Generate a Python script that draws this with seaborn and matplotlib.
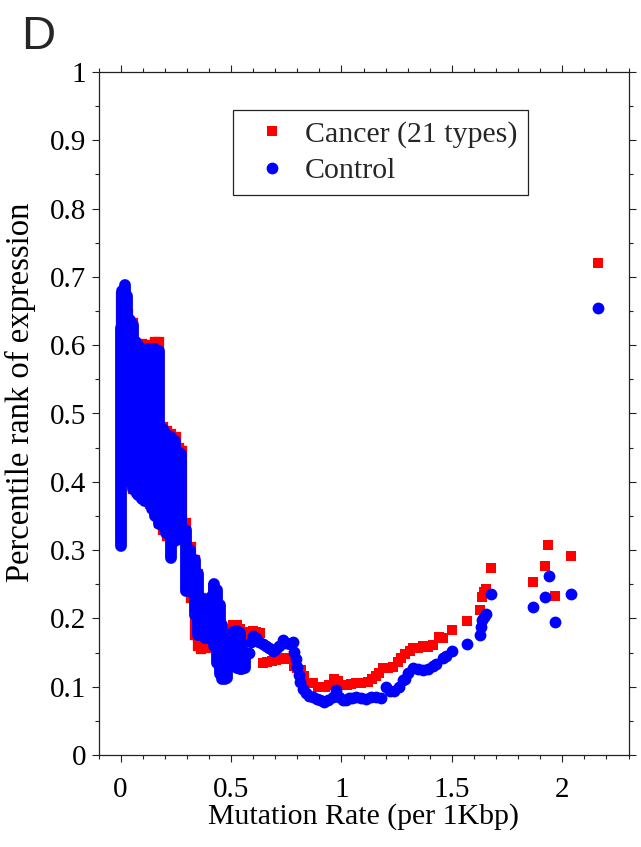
import matplotlib
matplotlib.use("Agg")
import matplotlib.pyplot as plt
from matplotlib.lines import Line2D
from matplotlib.ticker import MultipleLocator
import seaborn as sns
import pandas as pd

# Low mutation-rate genes are so numerous that their sliding-window points
# pile up into solid columns: each column is given by its x and the lowest /
# highest window value found at that x.
cancer_band_x = [0.000, 0.010, 0.020, 0.035, 0.055, 0.075, 0.095, 0.115, 0.135,
                 0.155, 0.175, 0.190, 0.210, 0.228, 0.250, 0.265, 0.278, 0.298,
                 0.318, 0.335, 0.350, 0.365]
cancer_band_lo = [0.322, 0.405, 0.410, 0.400, 0.390, 0.385, 0.378, 0.372, 0.368,
                  0.355, 0.340, 0.330, 0.320, 0.300, 0.315, 0.315, 0.315, 0.245,
                  0.230, 0.175, 0.160, 0.155]
cancer_band_hi = [0.670, 0.675, 0.678, 0.645, 0.633, 0.602, 0.602, 0.600, 0.598,
                  0.605, 0.605, 0.480, 0.475, 0.470, 0.465, 0.450, 0.445, 0.340,
                  0.305, 0.285, 0.265, 0.230]

control_band_x = [0.000, 0.008, 0.018, 0.030, 0.042, 0.055, 0.068, 0.080, 0.095,
                  0.110, 0.125, 0.140, 0.155, 0.172, 0.190, 0.205, 0.228, 0.248,
                  0.262, 0.275, 0.298, 0.316, 0.335, 0.350, 0.365, 0.380, 0.395,
                  0.410, 0.422, 0.435, 0.448, 0.460, 0.472, 0.484, 0.497, 0.510,
                  0.525, 0.540, 0.552, 0.565]
control_band_lo = [0.306, 0.410, 0.415, 0.410, 0.400, 0.390, 0.385, 0.380, 0.375,
                   0.372, 0.370, 0.360, 0.350, 0.338, 0.335, 0.325, 0.289, 0.313,
                   0.320, 0.320, 0.240, 0.240, 0.205, 0.175, 0.175, 0.172, 0.172,
                   0.178, 0.160, 0.135, 0.118, 0.112, 0.112, 0.113, 0.130, 0.132,
                   0.128, 0.126, 0.126, 0.128]
control_band_hi = [0.625, 0.680, 0.688, 0.672, 0.637, 0.630, 0.604, 0.600, 0.595,
                   0.585, 0.595, 0.595, 0.595, 0.592, 0.478, 0.470, 0.465, 0.460,
                   0.443, 0.440, 0.330, 0.300, 0.285, 0.265, 0.230, 0.215, 0.205,
                   0.232, 0.250, 0.242, 0.220, 0.190, 0.160, 0.140, 0.168, 0.180,
                   0.182, 0.178, 0.162, 0.145]

# Individual windows at higher mutation rates
cancer_x = [0.356, 0.375, 0.394, 0.410, 0.420, 0.435, 0.450, 0.465, 0.478,
            0.495, 0.510, 0.525, 0.540, 0.555, 0.575, 0.598, 0.615, 0.630,
            0.645, 0.662, 0.685, 0.704, 0.725, 0.749, 0.765, 0.785, 0.800,
            0.817, 0.830, 0.845, 0.870, 0.895, 0.925, 0.945, 0.968, 0.985,
            1.005, 1.025, 1.045, 1.067, 1.090, 1.120, 1.140, 1.157, 1.172,
            1.187, 1.210, 1.233, 1.255, 1.271, 1.290, 1.310, 1.323, 1.345,
            1.369, 1.390, 1.414, 1.444, 1.459, 1.499, 1.567, 1.626, 1.635,
            1.645, 1.653, 1.677, 1.869, 1.921, 1.936, 1.966, 2.040, 2.161]
cancer_y = [0.164, 0.160, 0.156, 0.160, 0.245, 0.215, 0.185, 0.150, 0.125,
            0.175, 0.190, 0.190, 0.185, 0.165, 0.180, 0.181, 0.180, 0.178,
            0.135, 0.136, 0.137, 0.139, 0.140, 0.142, 0.140, 0.130, 0.128,
            0.124, 0.115, 0.105, 0.105, 0.100, 0.100, 0.102, 0.112, 0.108,
            0.102, 0.102, 0.104, 0.105, 0.106, 0.107, 0.112, 0.115, 0.120,
            0.127, 0.128, 0.129, 0.136, 0.142, 0.148, 0.153, 0.156, 0.157,
            0.159, 0.158, 0.161, 0.173, 0.172, 0.183, 0.196, 0.213, 0.231,
            0.238, 0.243, 0.274, 0.253, 0.276, 0.307, 0.233, 0.291, 0.721]

control_x = [0.580, 0.590, 0.600, 0.613, 0.628, 0.643, 0.658, 0.673, 0.688,
             0.703, 0.719, 0.734, 0.750, 0.765, 0.779, 0.787, 0.794, 0.800,
             0.806, 0.812, 0.825, 0.840, 0.855, 0.870, 0.890, 0.905, 0.920,
             0.940, 0.960, 0.976, 0.990, 1.006, 1.021, 1.036, 1.050, 1.067,
             1.090, 1.112, 1.135, 1.158, 1.180, 1.203, 1.222, 1.240, 1.262,
             1.278, 1.290, 1.302, 1.324, 1.345, 1.369, 1.390, 1.414, 1.430,
             1.461, 1.475, 1.500, 1.568, 1.626, 1.630, 1.635, 1.645, 1.654,
             1.679, 1.869, 1.921, 1.939, 1.966, 2.040, 2.161]
control_y = [0.150, 0.166, 0.174, 0.172, 0.166, 0.162, 0.159, 0.156, 0.153,
             0.155, 0.160, 0.168, 0.164, 0.162, 0.166, 0.151, 0.140, 0.129,
             0.117, 0.107, 0.097, 0.091, 0.087, 0.085, 0.082, 0.080, 0.078,
             0.080, 0.085, 0.095, 0.085, 0.081, 0.081, 0.083, 0.084, 0.085,
             0.083, 0.082, 0.085, 0.085, 0.084, 0.100, 0.093, 0.093, 0.100,
             0.110, 0.112, 0.120, 0.127, 0.126, 0.124, 0.126, 0.130, 0.133,
             0.142, 0.145, 0.152, 0.162, 0.176, 0.187, 0.198, 0.202, 0.206,
             0.235, 0.216, 0.231, 0.262, 0.195, 0.236, 0.655]

x_ticks = [0, 0.5, 1, 1.5, 2]
x_tick_labels = ["0", "0.5", "1", "1.5", "2"]
y_ticks = [0, 0.1, 0.2, 0.3, 0.4, 0.5, 0.6, 0.7, 0.8, 0.9, 1.0]
y_tick_labels = ["0", "0.1", "0.2", "0.3", "0.4", "0.5", "0.6", "0.7", "0.8", "0.9", "1"]

cancer_label = "Cancer (21 types)"
control_label = "Control"
cancer_color = "#ff0000"
control_color = "#0000ff"

sns.set_theme(style="ticks")
plt.rcParams["font.family"] = ["Liberation Serif", "DejaVu Serif"]

fig = plt.figure(figsize=(6.41, 8.47), dpi=100)
ax = fig.add_axes([98.5 / 641, 1 - 755 / 847, 530 / 641, 683 / 847])

sq_side = 7.4    # points
dot_diam = 8.5   # points

cancer_df = pd.DataFrame({"x": cancer_x, "y": cancer_y})
control_df = pd.DataFrame({"x": control_x, "y": control_y})

# Cancer first, control drawn over it
ax.vlines(cancer_band_x, cancer_band_lo, cancer_band_hi, colors=cancer_color,
          linewidth=sq_side, capstyle="projecting", zorder=2)
sns.scatterplot(data=cancer_df, x="x", y="y", marker="s", s=sq_side ** 2,
                color=cancer_color, linewidth=0, ax=ax, zorder=3)
ax.vlines(control_band_x, control_band_lo, control_band_hi, colors=control_color,
          linewidth=dot_diam, capstyle="round", zorder=4)
sns.scatterplot(data=control_df, x="x", y="y", marker="o", s=dot_diam ** 2,
                color=control_color, linewidth=0, ax=ax, zorder=5)

ax.set_xlim(-0.1, 2.3)
ax.set_ylim(0, 1)
ax.set_xticks(x_ticks)
ax.set_xticklabels(x_tick_labels)
ax.set_yticks(y_ticks)
ax.set_yticklabels(y_tick_labels)
ax.xaxis.set_minor_locator(MultipleLocator(0.1))
ax.yaxis.set_minor_locator(MultipleLocator(0.05))

for side in ["top", "right", "left", "bottom"]:
    ax.spines[side].set_visible(True)
    ax.spines[side].set_color("#222222")
    ax.spines[side].set_linewidth(0.9)

ax.tick_params(axis="both", which="major", direction="out", length=5, width=0.8,
               color="#222222", labelsize=21, top=True, right=True,
               labeltop=False, labelright=False)
ax.tick_params(axis="x", which="major", pad=11)
ax.tick_params(axis="y", which="major", pad=4)
ax.tick_params(axis="both", which="minor", direction="out", length=3, width=0.8,
               color="#222222", top=True, right=True)
for lab in ax.get_xticklabels() + ax.get_yticklabels():
    lab.set_color("black")

ax.set_xlabel("Mutation Rate (per 1Kbp)", fontsize=21.5, labelpad=0, color="black")
ax.set_ylabel("Percentile rank of expression", fontsize=23.5, color="black")
ax.yaxis.set_label_coords(-0.118, 0.531)

handles = [
    Line2D([], [], marker="s", linestyle="none", color=cancer_color,
           markersize=sq_side, markeredgewidth=0),
    Line2D([], [], marker="o", linestyle="none", color=control_color,
           markersize=dot_diam, markeredgewidth=0),
]
leg = ax.legend(handles, [cancer_label, control_label], loc="upper left",
                bbox_to_anchor=(0.2538, 0.9444), borderaxespad=0,
                fontsize=21.5, frameon=True, fancybox=False, shadow=False,
                handlelength=1.9, handletextpad=0.15, borderpad=0.35,
                labelspacing=0.33)
leg.get_frame().set_edgecolor("#222222")
leg.get_frame().set_linewidth(0.9)
leg.get_frame().set_alpha(1)

fig.text(21.5 / 641, 1 - 49 / 847, "D", fontsize=34,
         family=["Liberation Sans", "DejaVu Sans"], ha="left", va="baseline")

fig.savefig("out.png", dpi=100, facecolor="white")
